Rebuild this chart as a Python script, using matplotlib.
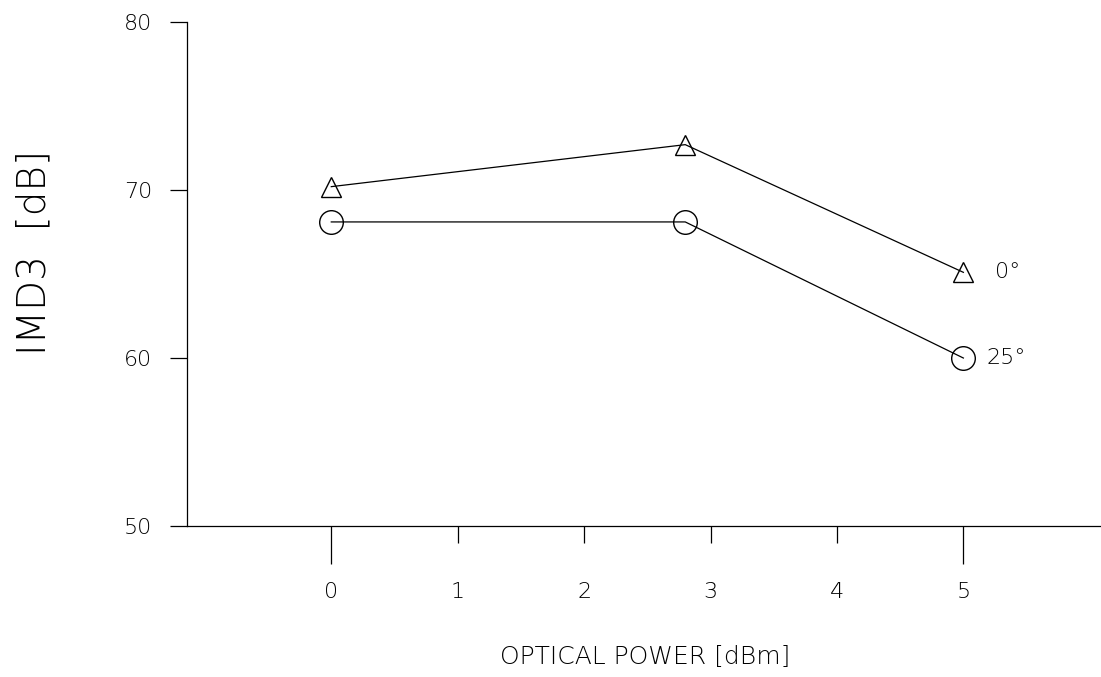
import matplotlib
matplotlib.use('Agg')
from matplotlib import pyplot as plt

# data
power = [0, 2.8, 5]
imd3_0deg = [70.2, 72.7, 65.1]
imd3_25deg = [68.1, 68.1, 60.0]
xticks = [0, 1, 2, 3, 4, 5]
yticks = [50, 60, 70, 80]

plt.rcParams['font.family'] = ['DejaVu Sans']
plt.rcParams['font.weight'] = 'light'

fig = plt.figure(figsize=(11.01, 6.77), dpi=100)
ax = fig.add_axes([0.170, 0.223, 0.829, 0.7445])

ax.plot(power, imd3_0deg, color='black', lw=0.9, marker='^', ms=15,
        mfc='none', mec='black', mew=1.0)
ax.plot(power, imd3_25deg, color='black', lw=0.9, marker='o', ms=17,
        mfc='none', mec='black', mew=1.0)

ax.annotate('0°', (power[-1], imd3_0deg[-1]), xytext=(23, 0),
            textcoords='offset points', va='center', ha='left', fontsize=16)
ax.annotate('25°', (power[-1], imd3_25deg[-1]), xytext=(17, 0),
            textcoords='offset points', va='center', ha='left', fontsize=16)

ax.set_xlim(-1.14, 6.08)
ax.set_ylim(50, 80)
ax.set_xticks(xticks)
ax.set_yticks(yticks)
ax.tick_params(axis='x', direction='out', length=12, width=0.9, pad=28, labelsize=16)
ax.tick_params(axis='y', direction='out', length=12, width=0.9, pad=13, labelsize=16)
# longer ticks at 0 and 5
for i, t in enumerate(ax.xaxis.get_major_ticks()):
    if xticks[i] in (0, 5):
        t.tick1line.set_markersize(27)

for s in ['top', 'right']:
    ax.spines[s].set_visible(False)
for s in ['left', 'bottom']:
    ax.spines[s].set_linewidth(0.9)

fig.text(0.031, 0.627, 'IMD3  [dB]', rotation=90, va='center', ha='center', fontsize=28)
fig.text(0.586, 0.030, 'OPTICAL POWER [dBm]', va='center', ha='center', fontsize=18)

fig.savefig('out.png', dpi=100)
